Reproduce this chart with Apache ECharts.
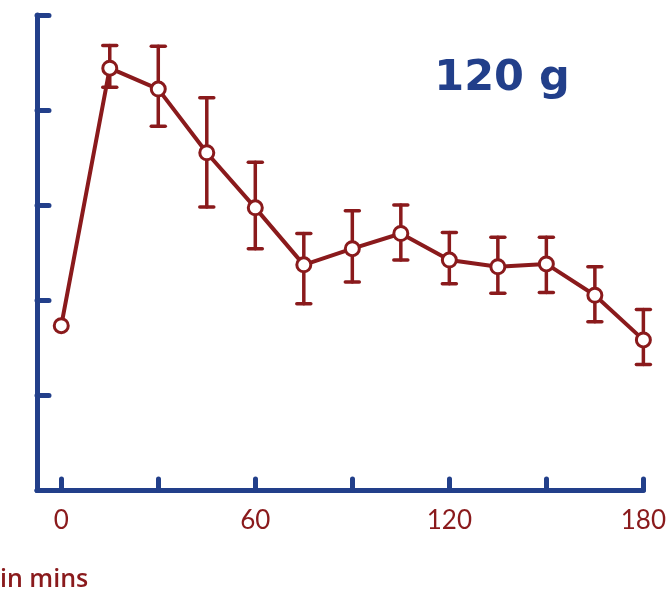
<!DOCTYPE html>
<html>
<head>
<meta charset="utf-8">
<script src="https://cdn.jsdelivr.net/npm/echarts@6/dist/echarts.min.js"></script>
<style>
html,body{margin:0;padding:0;background:#fff;}
#c{width:669px;height:596px;}
</style>
</head>
<body>
<div id="c"></div>
<script>
var times = [0, 15, 30, 45, 60, 75, 90, 105, 120, 135, 150, 165, 180];
var means = [1.73, 4.44, 4.22, 3.55, 2.97, 2.37, 2.54, 2.70, 2.42, 2.35, 2.38, 2.05, 1.58];
var upper = [null, 4.68, 4.67, 4.13, 3.45, 2.70, 2.94, 3.00, 2.71, 2.66, 2.66, 2.35, 1.90];
var lower = [null, 4.24, 3.83, 2.98, 2.54, 1.96, 2.19, 2.42, 2.17, 2.07, 2.08, 1.77, 1.32];
var xTicks = [0, 30, 60, 90, 120, 150, 180];
var xLabels = [0, 60, 120, 180];
var titleText = '120 g';
var unitText = 'in mins';

var RED = '#8a1a1c';
var NAVY = '#223f8a';

var errData = [];
for (var i = 0; i < times.length; i++) {
  if (upper[i] != null) errData.push([times[i], lower[i], upper[i]]);
}

var chart = echarts.init(document.getElementById('c'));
chart.setOption({
  animation: false,
  backgroundColor: '#fff',
  grid: {left: 37, right: 24, top: 15, bottom: 106},
  xAxis: {
    type: 'value', min: -7.5, max: 180,
    splitLine: {show: false},
    axisLine: {onZero: false, lineStyle: {color: NAVY, width: 5, cap: 'round'}},
    axisTick: {show: true, inside: true, length: 11, customValues: xTicks,
      lineStyle: {color: NAVY, width: 5, cap: 'round'}},
    axisLabel: {customValues: xLabels, color: RED, fontSize: 26,
      fontFamily: 'Lato', margin: 18}
  },
  yAxis: {
    type: 'value', min: 0, max: 5, interval: 1,
    splitLine: {show: false},
    axisLine: {show: true, onZero: false, lineStyle: {color: NAVY, width: 5, cap: 'round'}},
    axisTick: {show: true, inside: true, length: 12,
      lineStyle: {color: NAVY, width: 5, cap: 'round'}},
    axisLabel: {show: false}
  },
  series: [
    {
      type: 'custom',
      z: 2,
      data: errData,
      renderItem: function (params, api) {
        var x = api.value(0);
        var lo = api.coord([x, api.value(1)]);
        var hi = api.coord([x, api.value(2)]);
        var hw = 7;
        var st = {stroke: RED, lineWidth: 3.5, lineCap: 'round'};
        return {
          type: 'group',
          children: [
            {type: 'line', shape: {x1: lo[0], y1: lo[1], x2: hi[0], y2: hi[1]}, style: st},
            {type: 'line', shape: {x1: lo[0] - hw, y1: lo[1], x2: lo[0] + hw, y2: lo[1]}, style: st},
            {type: 'line', shape: {x1: hi[0] - hw, y1: hi[1], x2: hi[0] + hw, y2: hi[1]}, style: st}
          ]
        };
      }
    },
    {
      type: 'line',
      z: 3,
      data: times.map(function (t, i) { return [t, means[i]]; }),
      symbol: 'circle',
      symbolSize: 14,
      lineStyle: {color: RED, width: 4},
      itemStyle: {color: '#fff', borderColor: RED, borderWidth: 3}
    }
  ],
  graphic: [
    {type: 'text', style: {text: titleText, x: 502, y: 79,
      align: 'center', verticalAlign: 'middle', fill: NAVY,
      font: 'bold 43px "DejaVu Sans"'}},
    {type: 'text', style: {text: unitText, x: 0, y: 580, verticalAlign: 'middle',
      fill: RED, font: '600 25px "Open Sans"'}}
  ]
});
</script>
</body>
</html>
